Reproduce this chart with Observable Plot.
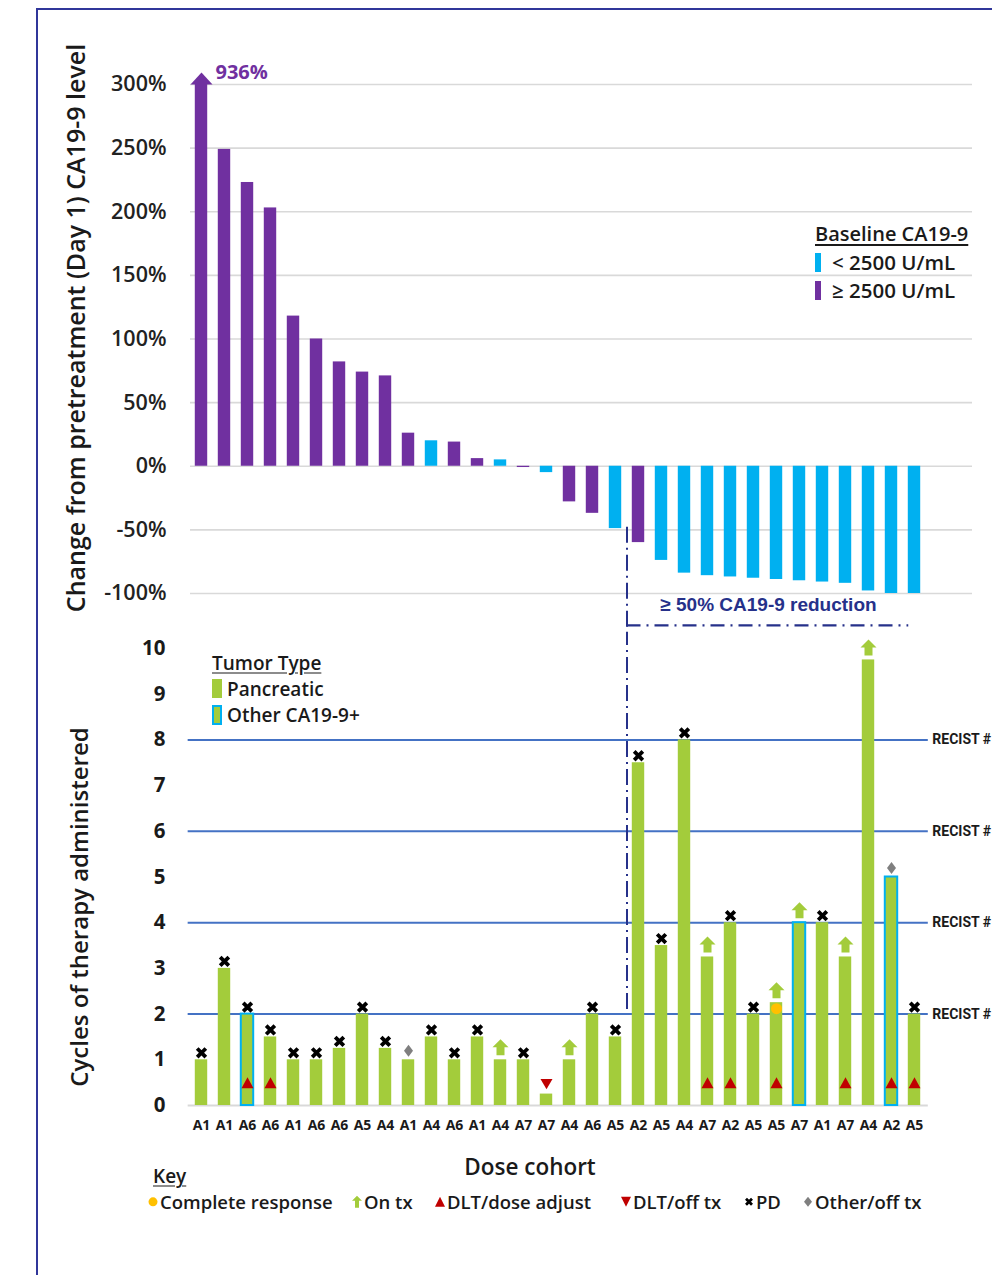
<!DOCTYPE html>
<html>
<head>
<meta charset="utf-8">
<script src="https://cdn.jsdelivr.net/npm/d3@7"></script>
<script src="https://cdn.jsdelivr.net/npm/@observablehq/plot@0.6"></script>
<style>
  html, body { margin: 0; padding: 0; background: #fff; overflow: hidden; }
  #root { position: relative; width: 992px; height: 1275px; overflow: hidden; font-family: "Open Sans", sans-serif; color: #1a1a1a; }
  .abs { position: absolute; white-space: nowrap; }
  .lab { font-size: 19px; font-weight: 600; line-height: 1; transform: translateY(-50%); }
  .u { text-decoration: underline; text-underline-offset: 3px; }
  #frame { position: absolute; left: 36px; top: 8px; width: 1100px; height: 1400px; border-left: 2px solid #30369a; border-top: 2px solid #30369a; }
  .plot-wrap { position: absolute; left: 0; }
</style>
</head>
<body>
<div id="root">
  <div id="frame"></div>
  <div id="topChart" class="plot-wrap" style="top:0px"></div>
  <div id="bottomChart" class="plot-wrap" style="top:632px"></div>
</div>
<script>
// ---------------- data ----------------
const cohorts = ["A1","A1","A6","A6","A1","A6","A6","A5","A4","A1","A4","A6","A1","A4","A7","A7","A4","A6","A5","A2","A5","A4","A7","A2","A5","A5","A7","A1","A7","A4","A2","A5"];
const changePct = [936,249,223,203,118,100,82,74,71,26,20,19,6,5,-1,-5,-28,-37,-49,-60,-74,-84,-86,-87,-88,-89,-90,-91,-92,-98,-100,-100];
const baselineHigh = [1,1,1,1,1,1,1,1,1,1,0,1,1,0,1,0,1,1,0,1,0,0,0,0,0,0,0,0,0,0,0,0];
const cycles = [1,3,2,1.5,1,1,1.25,2,1.25,1,1.5,1,1.5,1,1,0.25,1,2,1.5,7.5,3.5,8,3.25,4,2,2.25,4,4,3.25,9.75,5,2];
const otherTumor = [2,26,30];
const outcome = ["PD","PD","PD","PD","PD","PD","PD","PD","PD","Other","PD","PD","PD","OnTx","PD","DLToff","OnTx","PD","PD","PD","PD","PD","OnTx","PD","PD","OnTx","OnTx","PD","OnTx","OnTx","Other","PD"];
const dltAdjust = [2,3,22,23,25,28,30,31];
const completeResponse = [25];
const yTicksTop = [-100,-50,0,50,100,150,200,250,300];
const yTicksBottom = [0,1,2,3,4,5,6,7,8,9,10];
const recistLevels = [2,4,6,8];
const recistLabel = "RECIST #";
const yCap = 300;

// ---------------- styles ----------------
const purple = "#7030a0", blue = "#00b0f0", green = "#a3cc3b", navy = "#26318a";
const red = "#c00000", gray = "#7f7f7f", orange = "#ffc000";
const idx = d3.range(cohorts.length);
const xScale = {type: "linear", domain: [-0.5, 31.5], range: [189.5, 925.5], axis: null};
const half = 0.27;

// custom symbols
const headSym = {draw(ctx, size) { const r = Math.sqrt(size / Math.PI);
  ctx.moveTo(-r, 0); ctx.lineTo(r, 0); ctx.lineTo(0, -1.1 * r); ctx.closePath(); }};
const arrowSym = {draw(ctx, size) { const r = Math.sqrt(size / Math.PI);
  ctx.moveTo(0, -r); ctx.lineTo(r, 0); ctx.lineTo(0.5 * r, 0); ctx.lineTo(0.5 * r, r);
  ctx.lineTo(-0.5 * r, r); ctx.lineTo(-0.5 * r, 0); ctx.lineTo(-r, 0); ctx.closePath(); }};
const triUp = {draw(ctx, size) { const r = Math.sqrt(size / Math.PI);
  ctx.moveTo(0, -0.92 * r); ctx.lineTo(r, 0.92 * r); ctx.lineTo(-r, 0.92 * r); ctx.closePath(); }};
const triDown = {draw(ctx, size) { const r = Math.sqrt(size / Math.PI);
  ctx.moveTo(0, 0.85 * r); ctx.lineTo(r, -0.85 * r); ctx.lineTo(-r, -0.85 * r); ctx.closePath(); }};
const diamondSym = {draw(ctx, size) { const r = Math.sqrt(size / Math.PI);
  ctx.moveTo(0, -r); ctx.lineTo(0.75 * r, 0); ctx.lineTo(0, r); ctx.lineTo(-0.75 * r, 0); ctx.closePath(); }};

// ---------------- top chart ----------------
const capped = idx.filter(i => changePct[i] > yCap);
const topPlot = Plot.plot({
  width: 992, height: 632,
  marginLeft: 190, marginRight: 20, marginTop: 0, marginBottom: 0,
  style: {fontFamily: "Open Sans, sans-serif", background: "transparent", overflow: "visible"},
  x: xScale,
  y: {domain: [-100, 300], range: [593, 84], axis: null},
  marks: [
    Plot.ruleY(yTicksTop, {stroke: "#d9d9d9", strokeWidth: 1.6}),
    Plot.axisY({ticks: yTicksTop, tickFormat: d => d + "%", tickSize: 0, tickPadding: 24,
      fontSize: 21.5, fontWeight: 600, fill: "#222", label: null}),
    Plot.rect(idx, {x1: i => i - half, x2: i => i + half, y1: 0,
      y2: i => Math.min(changePct[i], yCap), fill: i => baselineHigh[i] ? purple : blue}),
    Plot.dot(capped, {x: i => i, y: yCap, symbol: headSym, r: 11, fill: purple, stroke: "none"}),
    Plot.text(capped, {x: i => i, y: yCap, text: i => changePct[i] + "%", dx: 14, dy: -12,
      textAnchor: "start", fill: purple, fontWeight: 700, fontSize: 20}),
    // >=50% reduction bracket
    Plot.ruleX([18.5], {y1: -48, y2: -140, stroke: navy, strokeWidth: 2, strokeDasharray: "16,5,2,5"}),
    Plot.ruleY([-125], {x1: 18.5, x2: 30.75, stroke: navy, strokeWidth: 2.2, strokeDasharray: "14,6,2,6"}),
    Plot.text(["≥ 50% CA19-9 reduction"], {x: 24.65, y: -109, fill: navy, fontSize: 19,
      fontWeight: 700, fontFamily: "Liberation Sans, Arial, sans-serif"})
  ]
});
document.getElementById("topChart").appendChild(topPlot);

// ---------------- bottom chart ----------------
const byOutcome = k => idx.filter(i => outcome[i] === k);
const bottomPlot = Plot.plot({
  width: 992, height: 560,
  marginLeft: 190, marginRight: 20, marginTop: 0, marginBottom: 87,
  style: {fontFamily: "Open Sans, sans-serif", background: "transparent"},
  x: xScale,
  y: {domain: [0, 10], range: [473, 16], axis: null},
  marks: [
    Plot.ruleY([0], {x1: -0.58, x2: 31.6, stroke: "#d9d9d9", strokeWidth: 2}),
    Plot.ruleY(recistLevels, {x1: -0.58, x2: 31.6, stroke: "#4472c4", strokeWidth: 2}),
    Plot.text(recistLevels, {x: 31.6, y: d => d, dx: 4, text: () => recistLabel,
      textAnchor: "start", fontSize: 14, fontWeight: 700, fill: "#1a1a1a", fontFamily: "Roboto, sans-serif"}),
    Plot.axisY({ticks: yTicksBottom, tickSize: 0, tickPadding: 25, fontSize: 20.5, fontWeight: 700,
      fill: "#1a1a1a", label: null}),
    Plot.axisX({ticks: idx, tickFormat: i => cohorts[i], tickSize: 0, tickPadding: 15,
      fontSize: 14, fontWeight: 700, fill: "#1a1a1a", label: null}),
    Plot.ruleX([18.5], {y1: 2.1, y2: 10.8, stroke: navy, strokeWidth: 2, strokeDasharray: "16,5,2,5"}),
    Plot.rect(idx, {x1: i => i - half, x2: i => i + half, y1: 0, y2: i => cycles[i],
      fill: green, stroke: i => otherTumor.includes(i) ? blue : "none", strokeWidth: 2, inset: 0}),
    // markers
    Plot.dot(byOutcome("PD"), {x: i => i, y: i => cycles[i], dy: -7, symbol: "times", r: 4,
      stroke: "#000", strokeWidth: 3.8}),
    Plot.dot(byOutcome("OnTx"), {x: i => i, y: i => cycles[i], dy: -12.5, symbol: arrowSym, r: 8,
      fill: green, stroke: "none"}),
    Plot.dot(byOutcome("Other"), {x: i => i, y: i => cycles[i], dy: -9, symbol: diamondSym, r: 6,
      fill: gray, stroke: "none"}),
    Plot.dot(byOutcome("DLToff"), {x: i => i, y: i => cycles[i], dy: -10, symbol: triDown, r: 6,
      fill: red, stroke: "none"}),
    Plot.dot(dltAdjust, {x: i => i, y: 0.5, symbol: triUp, r: 6, fill: red, stroke: "none"}),
    Plot.dot(completeResponse, {x: i => i, y: i => cycles[i], dy: 6, r: 5.5, fill: orange, stroke: "none"})
  ]
});
document.getElementById("bottomChart").appendChild(bottomPlot);

// ---------------- HTML text: titles, legends, key ----------------
const root = document.getElementById("root");
function add(html, style, cls = "abs") {
  const d = document.createElement("div");
  d.className = cls; d.innerHTML = html; d.style.cssText = style; root.appendChild(d); return d;
}
// axis titles
add("Change from pretreatment (Day 1) CA19-9 level",
  "left:75px;top:328px;transform:translate(-50%,-50%) rotate(-90deg);font-size:25px;font-weight:600;");
add("Cycles of therapy administered",
  "left:78px;top:907px;transform:translate(-50%,-50%) rotate(-90deg);font-size:24px;font-weight:600;");
add("Dose cohort", "left:530px;top:1166px;transform:translate(-50%,-50%);font-size:22.5px;font-weight:600;");

// baseline legend
add('<span class="u">Baseline CA19-9</span>', "left:815px;top:234px;font-size:20px;", "abs lab");
add("", `left:815px;top:253px;width:6px;height:19px;background:${blue};`);
add("&lt; 2500 U/mL", "left:832px;top:262px;font-size:20.5px;", "abs lab");
add("", `left:815px;top:281px;width:6px;height:19px;background:${purple};`);
add("≥ 2500 U/mL", "left:832px;top:290px;font-size:20.5px;", "abs lab");

// tumor type legend
add('<span class="u">Tumor Type</span>', "left:212px;top:663px;", "abs lab");
add("", `left:212px;top:679px;width:10px;height:19px;background:${green};`);
add("Pancreatic", "left:227px;top:689px;", "abs lab");
add("", `left:212px;top:705px;width:6px;height:16px;background:${green};border:2px solid ${blue};`);
add("Other CA19-9+", "left:227px;top:715px;", "abs lab");

// key
add('<span class="u">Key</span>', "left:153px;top:1176px;", "abs lab");
const icon = body => `<svg width="14" height="16" viewBox="-7 -8 14 16" style="vertical-align:middle">${body}</svg>`;
const keyItems = [
  {x: 146, ic: `<circle r="4.5" fill="${orange}"/>`, t: "Complete response"},
  {x: 350, ic: `<path d="M0,-6 L5,-1 L2,-1 L2,6 L-2,6 L-2,-1 L-5,-1Z" fill="${green}"/>`, t: "On tx"},
  {x: 433, ic: `<path d="M0,-5 L5,5 L-5,5Z" fill="${red}"/>`, t: "DLT/dose adjust"},
  {x: 619, ic: `<path d="M0,5 L5,-5 L-5,-5Z" fill="${red}"/>`, t: "DLT/off tx"},
  {x: 742, ic: `<path d="M-3,-3 L3,3 M3,-3 L-3,3" stroke="#000" stroke-width="2.8"/>`, t: "PD"},
  {x: 801, ic: `<path d="M0,-5 L4,0 L0,5 L-4,0Z" fill="${gray}"/>`, t: "Other/off tx"}
];
keyItems.forEach(k => add(icon(k.ic) + `<span style="vertical-align:middle">${k.t}</span>`,
  `left:${k.x}px;top:1201px;font-size:18.5px;`, "abs lab"));
</script>
</body>
</html>
